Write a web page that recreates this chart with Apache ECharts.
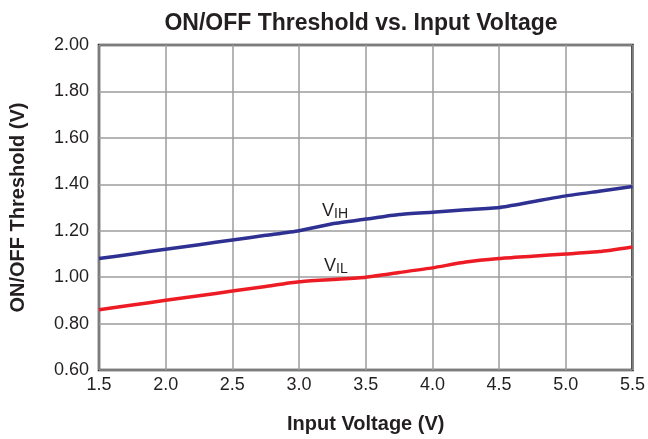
<!DOCTYPE html>
<html><head><meta charset="utf-8">
<script src="https://cdn.jsdelivr.net/npm/echarts@6/dist/echarts.min.js"></script>
<style>html,body{margin:0;padding:0;background:#fff}#c{width:648px;height:439px}</style>
</head><body><div id="c"></div>
<script>
const inputVoltage = [1.5,1.75,2.0,2.25,2.5,2.75,3.0,3.25,3.5,3.75,4.0,4.25,4.5,4.75,5.0,5.25,5.5];
const vih = [1.08,1.10,1.12,1.14,1.16,1.18,1.20,1.23,1.25,1.27,1.28,1.29,1.30,1.325,1.35,1.37,1.39];
const vil = [0.86,0.88,0.90,0.92,0.94,0.96,0.98,0.99,1.00,1.02,1.04,1.065,1.08,1.09,1.10,1.11,1.13];
const titleText = 'ON/OFF Threshold vs. Input Voltage';
const xName = 'Input Voltage (V)';
const yName = 'ON/OFF Threshold (V)';

const chart = echarts.init(document.getElementById('c'));
const sans = '"Liberation Sans", Arial, sans-serif';
const txt = '#231f20';
const sub = {v: {fontFamily: sans, fontSize: 18, fill: txt}, s: {fontFamily: sans, fontSize: 14, fill: txt, verticalAlign: 'bottom', padding: [6,0,0,0]}};
chart.setOption({
  animation: false,
  title: {text: titleText, left: 356, top: 7, textAlign: 'center',
    textStyle: {fontFamily: sans, fontWeight: 'bold', fontSize: 23, color: txt}},
  grid: {left: 99, right: 13, top: 45, bottom: 67, show: true, borderColor: txt, borderWidth: 2.5, backgroundColor: 'transparent'},
  xAxis: {type: 'value', min: 1.5, max: 5.5, interval: 0.5,
    name: xName, nameLocation: 'middle', nameGap: 44,
    nameTextStyle: {fontFamily: sans, fontWeight: 'bold', fontSize: 20, color: txt},
    axisLine: {show: false}, axisTick: {show: false},
    axisLabel: {formatter: v => v.toFixed(1), fontFamily: sans, fontSize: 18, color: txt, margin: 6},
    splitLine: {lineStyle: {color: '#9d9d9d', width: 1.5}}},
  yAxis: {type: 'value', min: 0.6, max: 2.0, interval: 0.2,
    name: yName, nameLocation: 'middle', nameGap: 71, nameRotate: 90,
    nameTextStyle: {fontFamily: sans, fontWeight: 'bold', fontSize: 20, color: txt},
    axisLine: {show: false}, axisTick: {show: false},
    axisLabel: {formatter: v => v.toFixed(2), fontFamily: sans, fontSize: 18, color: txt, margin: 10},
    splitLine: {lineStyle: {color: '#9d9d9d', width: 1.5}}},
  series: [
    {name: 'VIH', type: 'line', data: inputVoltage.map((x,i)=>[x, vih[i]]), showSymbol: false, smooth: 0.2,
      lineStyle: {color: '#2e3192', width: 3.5}},
    {name: 'VIL', type: 'line', data: inputVoltage.map((x,i)=>[x, vil[i]]), showSymbol: false, smooth: 0.2,
      lineStyle: {color: '#ed1c24', width: 3.5}}
  ],
  graphic: [
    {type: 'text', left: 322, top: 202, style: {text: '{v|V}{s|IH}', rich: sub}},
    {type: 'text', left: 324, top: 257, style: {text: '{v|V}{s|IL}', rich: sub}}
  ]
});
</script></body></html>
